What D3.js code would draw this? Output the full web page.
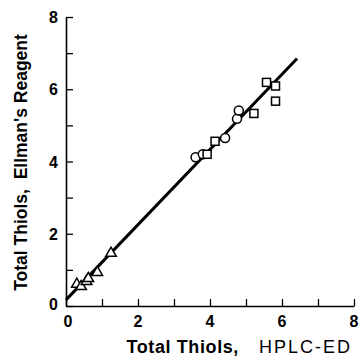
<!DOCTYPE html>
<html>
<head>
<meta charset="utf-8">
<script src="https://cdn.jsdelivr.net/npm/d3@7"></script>
<style>
  body { margin: 0; background: #fff; }
  text { font-family: "Liberation Sans", Arial, sans-serif; fill: #000; }
</style>
</head>
<body>
<div id="chart"></div>
<script>
// data
const triangles = [[0.30, 0.60], [0.42, 0.54], [0.57, 0.68], [0.62, 0.76], [0.87, 0.93], [1.25, 1.46]];
const circles = [[3.60, 4.12], [3.80, 4.20], [4.42, 4.65], [4.75, 5.18], [4.80, 5.41]];
const squares = [[3.92, 4.20], [4.14, 4.56], [5.22, 5.33], [5.57, 6.19], [5.82, 6.09], [5.82, 5.67]];
const fitLine = [[0, 0.17], [6.42, 6.85]];
const xTicks = [0, 1, 2, 3, 4, 5, 6, 7, 8];
const yTicks = [0, 1, 2, 3, 4, 5, 6, 7, 8];
const tickLabels = [0, 2, 4, 6, 8];

const W = 360, H = 364;
const margin = { top: 17, right: 6, bottom: 58, left: 66 };

const svg = d3.select("#chart").append("svg")
    .attr("width", W)
    .attr("height", H);

const x = d3.scaleLinear().domain([0, 8]).range([margin.left, W - margin.right]);
const y = d3.scaleLinear().domain([0, 8]).range([H - margin.bottom, margin.top]);

// axes, ticks pointing inward
const xAxis = svg.append("g")
    .attr("transform", `translate(0,${y(0)})`)
    .call(d3.axisTop(x).tickValues(xTicks).tickSize(7).tickFormat("").tickSizeOuter(0));
const yAxis = svg.append("g")
    .attr("transform", `translate(${x(0)},0)`)
    .call(d3.axisRight(y).tickValues(yTicks).tickSize(7).tickFormat("").tickSizeOuter(0));
[xAxis, yAxis].forEach(g => {
    g.select(".domain").attr("stroke", "#000").attr("stroke-width", 1.6);
    g.selectAll(".tick line").attr("stroke", "#000").attr("stroke-width", 1.3);
});

// tick labels
svg.selectAll(".xlab")
    .data(tickLabels)
    .enter().append("text")
    .attr("x", d => x(d) + (d === 0 ? 2 : 0))
    .attr("y", y(0) + 21)
    .attr("text-anchor", "middle")
    .style("font-size", "16px")
    .style("font-weight", "bold")
    .text(d => d);

svg.selectAll(".ylab")
    .data(tickLabels)
    .enter().append("text")
    .attr("x", x(0) - 8)
    .attr("y", d => y(d) + (d === 0 ? 4 : 6))
    .attr("text-anchor", "end")
    .style("font-size", "16px")
    .style("font-weight", "bold")
    .text(d => d);

// regression line
svg.append("path")
    .datum(fitLine)
    .attr("d", d3.line().x(d => x(d[0])).y(d => y(d[1])))
    .attr("fill", "none")
    .attr("stroke", "#000")
    .attr("stroke-width", 3);

// markers
const sym = (type, size) => d3.symbol().type(type).size(size)();

svg.selectAll(".tri")
    .data(triangles)
    .enter().append("path")
    .attr("transform", d => `translate(${x(d[0])},${y(d[1])})`)
    .attr("d", sym(d3.symbolTriangle, 48))
    .attr("fill", "#fff").attr("stroke", "#000").attr("stroke-width", 1.5);

svg.selectAll(".circ")
    .data(circles)
    .enter().append("circle")
    .attr("cx", d => x(d[0]))
    .attr("cy", d => y(d[1]))
    .attr("r", 4.5)
    .attr("fill", "#fff").attr("stroke", "#000").attr("stroke-width", 1.5);

svg.selectAll(".sq")
    .data(squares)
    .enter().append("rect")
    .attr("x", d => x(d[0]) - 4)
    .attr("y", d => y(d[1]) - 4)
    .attr("width", 8)
    .attr("height", 8)
    .attr("fill", "#fff").attr("stroke", "#000").attr("stroke-width", 1.5);

// axis titles
svg.append("text")
    .attr("transform", `translate(27,${(margin.top + y(0)) / 2 + 1}) rotate(-90)`)
    .attr("text-anchor", "middle")
    .style("font-size", "17.5px")
    .style("font-weight", "bold")
    .attr("xml:space", "preserve")
    .text("Total Thiols,  Ellman's Reagent");

const xt = svg.append("text")
    .attr("x", W - 8)
    .attr("y", 353)
    .attr("text-anchor", "end")
    .style("font-size", "18px");
xt.append("tspan").style("font-weight", "bold").style("letter-spacing", "0.6px").text("Total Thiols,");
xt.append("tspan").attr("dx", 20).style("letter-spacing", "2px").text("HPLC-ED");
</script>
</body>
</html>
